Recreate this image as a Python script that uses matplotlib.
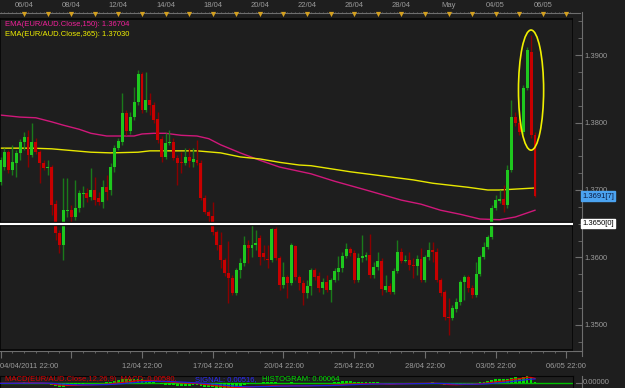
import numpy as np
import matplotlib
matplotlib.use("Agg")
import matplotlib.pyplot as plt
from matplotlib.patches import Ellipse

matplotlib.rcParams["font.family"] = ["Liberation Sans", "DejaVu Sans"]

W, H = 625, 388
BG = "#1e1e1e"
GRID_TXT = "#9a9a9a"
AXIS_LINE = "#6e6e6e"
UP_BODY = "#1ec81e"
UP_WICK = "#1a7a1a"
DN_BODY = "#c80000"
DN_WICK = "#8a0000"
EMA150_COLOR = "#d0187a"
EMA365_COLOR = "#e8e800"

# 4h candles, EUR/AUD
opens = [
    1.3712, 1.3734, 1.3756, 1.3730, 1.3740, 1.3755, 1.3771, 1.3779, 1.3752, 1.3771,
    1.3756, 1.3740, 1.3733, 1.3734, 1.3679, 1.3636, 1.3618, 1.3669, 1.3670, 1.3660,
    1.3673, 1.3694, 1.3696, 1.3690, 1.3700, 1.3688, 1.3682, 1.3704, 1.3700, 1.3734,
    1.3762, 1.3771, 1.3814, 1.3787, 1.3808, 1.3830, 1.3872, 1.3819, 1.3833, 1.3826,
    1.3805, 1.3776, 1.3749, 1.3770, 1.3771, 1.3747, 1.3741, 1.3740, 1.3749, 1.3741,
    1.3744, 1.3740, 1.3688, 1.3667, 1.3661, 1.3638, 1.3618, 1.3596, 1.3577, 1.3570,
    1.3547, 1.3581, 1.3592, 1.3618, 1.3614, 1.3618, 1.3629, 1.3607, 1.3598, 1.3596,
    1.3642, 1.3599, 1.3559, 1.3571, 1.3562, 1.3617, 1.3571, 1.3562, 1.3547, 1.3558,
    1.3581, 1.3573, 1.3555, 1.3564, 1.3552, 1.3567, 1.3579, 1.3584, 1.3602, 1.3613,
    1.3607, 1.3567, 1.3599, 1.3601, 1.3604, 1.3574, 1.3586, 1.3595, 1.3552, 1.3558,
    1.3549, 1.3580, 1.3608, 1.3595, 1.3596, 1.3589, 1.3587, 1.3598, 1.3567, 1.3601,
    1.3611, 1.3608, 1.3567, 1.3549, 1.3512, 1.3510, 1.3524, 1.3534, 1.3564, 1.3571,
    1.3555, 1.3544, 1.3576, 1.3601, 1.3616, 1.3630, 1.3673, 1.3684, 1.3687, 1.3678,
    1.3730, 1.3808, 1.3799, 1.3786, 1.3851, 1.3904, 1.3781,
]
closes = [
    1.3744, 1.3756, 1.3730, 1.3741, 1.3755, 1.3771, 1.3779, 1.3752, 1.3771, 1.3756,
    1.3740, 1.3733, 1.3734, 1.3678, 1.3636, 1.3618, 1.3670, 1.3670, 1.3660, 1.3673,
    1.3696, 1.3696, 1.3688, 1.3700, 1.3685, 1.3682, 1.3704, 1.3697, 1.3734, 1.3762,
    1.3773, 1.3814, 1.3787, 1.3808, 1.3830, 1.3872, 1.3819, 1.3833, 1.3826, 1.3804,
    1.3774, 1.3749, 1.3770, 1.3771, 1.3747, 1.3740, 1.3740, 1.3749, 1.3743, 1.3746,
    1.3740, 1.3688, 1.3667, 1.3661, 1.3638, 1.3618, 1.3596, 1.3577, 1.3570, 1.3547,
    1.3581, 1.3592, 1.3618, 1.3614, 1.3618, 1.3621, 1.3601, 1.3601, 1.3596, 1.3642,
    1.3599, 1.3559, 1.3571, 1.3562, 1.3618, 1.3571, 1.3562, 1.3547, 1.3558, 1.3581,
    1.3571, 1.3555, 1.3564, 1.3552, 1.3567, 1.3580, 1.3584, 1.3602, 1.3613, 1.3607,
    1.3567, 1.3599, 1.3602, 1.3604, 1.3574, 1.3586, 1.3595, 1.3553, 1.3558, 1.3549,
    1.3580, 1.3608, 1.3595, 1.3596, 1.3589, 1.3587, 1.3598, 1.3567, 1.3601, 1.3611,
    1.3608, 1.3567, 1.3547, 1.3512, 1.3510, 1.3525, 1.3534, 1.3564, 1.3571, 1.3555,
    1.3544, 1.3576, 1.3601, 1.3616, 1.3630, 1.3673, 1.3685, 1.3687, 1.3678, 1.3730,
    1.3808, 1.3799, 1.3786, 1.3851, 1.3907, 1.3781, 1.3691,
]
highs = [
    1.3749, 1.3762, 1.3759, 1.3767, 1.3759, 1.3776, 1.3786, 1.3789, 1.3799, 1.3777,
    1.3759, 1.3744, 1.3744, 1.3737, 1.3685, 1.3641, 1.3718, 1.3718, 1.3678, 1.3715,
    1.3700, 1.3706, 1.3703, 1.3733, 1.3719, 1.3697, 1.3715, 1.3722, 1.3740, 1.3767,
    1.3777, 1.3844, 1.3819, 1.3816, 1.3853, 1.3878, 1.3875, 1.3875, 1.3844, 1.3830,
    1.3816, 1.3780, 1.3784, 1.3789, 1.3777, 1.3752, 1.3756, 1.3762, 1.3762, 1.3762,
    1.3774, 1.3744, 1.3693, 1.3670, 1.3682, 1.3641, 1.3638, 1.3599, 1.3624, 1.3574,
    1.3584, 1.3599, 1.3632, 1.3626, 1.3648, 1.3641, 1.3633, 1.3618, 1.3618, 1.3644,
    1.3645, 1.3602, 1.3593, 1.3574, 1.3621, 1.3618, 1.3574, 1.3567, 1.3567, 1.3584,
    1.3584, 1.3579, 1.3570, 1.3574, 1.3570, 1.3584, 1.3602, 1.3608, 1.3621, 1.3616,
    1.3611, 1.3607, 1.3633, 1.3608, 1.3635, 1.3593, 1.3608, 1.3599, 1.3574, 1.3562,
    1.3584, 1.3626, 1.3614, 1.3604, 1.3608, 1.3599, 1.3604, 1.3614, 1.3604, 1.3623,
    1.3623, 1.3614, 1.3570, 1.3552, 1.3540, 1.3530, 1.3540, 1.3567, 1.3574, 1.3574,
    1.3559, 1.3593, 1.3604, 1.3623, 1.3633, 1.3678, 1.3693, 1.3700, 1.3707, 1.3737,
    1.3833, 1.3816, 1.3807, 1.3856, 1.3912, 1.3930, 1.3786,
]
lows = [
    1.3707, 1.3730, 1.3725, 1.3722, 1.3719, 1.3744, 1.3759, 1.3734, 1.3749, 1.3753,
    1.3710, 1.3730, 1.3722, 1.3663, 1.3626, 1.3607, 1.3596, 1.3660, 1.3653, 1.3656,
    1.3667, 1.3675, 1.3682, 1.3685, 1.3678, 1.3678, 1.3673, 1.3685, 1.3693, 1.3727,
    1.3759, 1.3767, 1.3781, 1.3783, 1.3804, 1.3826, 1.3814, 1.3816, 1.3811, 1.3799,
    1.3770, 1.3741, 1.3746, 1.3767, 1.3744, 1.3707, 1.3725, 1.3737, 1.3734, 1.3734,
    1.3737, 1.3685, 1.3664, 1.3651, 1.3633, 1.3611, 1.3584, 1.3573, 1.3533, 1.3544,
    1.3544, 1.3570, 1.3587, 1.3592, 1.3601, 1.3611, 1.3589, 1.3596, 1.3584, 1.3593,
    1.3596, 1.3552, 1.3555, 1.3540, 1.3559, 1.3567, 1.3552, 1.3530, 1.3540, 1.3544,
    1.3567, 1.3549, 1.3546, 1.3549, 1.3534, 1.3564, 1.3567, 1.3579, 1.3599, 1.3602,
    1.3562, 1.3564, 1.3593, 1.3596, 1.3570, 1.3570, 1.3581, 1.3544, 1.3549, 1.3546,
    1.3546, 1.3577, 1.3592, 1.3593, 1.3581, 1.3570, 1.3574, 1.3564, 1.3564, 1.3596,
    1.3593, 1.3564, 1.3543, 1.3507, 1.3485, 1.3507, 1.3519, 1.3530, 1.3537, 1.3549,
    1.3540, 1.3541, 1.3573, 1.3598, 1.3613, 1.3627, 1.3670, 1.3681, 1.3667, 1.3673,
    1.3727, 1.3795, 1.3781, 1.3783, 1.3848, 1.3777, 1.3690,
]

# EMA lines (read at a few candle positions)
ema150_idx = [0, 5, 9, 13, 16, 20, 23, 27, 34, 36, 39, 42, 46, 50, 53, 56, 61, 66,
              71, 79, 85, 93, 102, 107, 112, 117, 122, 127, 131, 136]
ema150_val = [1.3811, 1.3808, 1.3807, 1.3801, 1.3796, 1.3790, 1.3784, 1.3780, 1.3780,
              1.3783, 1.3784, 1.3784, 1.3781, 1.3780, 1.3776, 1.3767, 1.3755, 1.3744,
              1.3734, 1.3724, 1.3713, 1.3700, 1.3685, 1.3679, 1.3670, 1.3664, 1.3657,
              1.3656, 1.3660, 1.3670]
ema365_idx = [0, 8, 13, 19, 23, 28, 35, 38, 50, 56, 61, 66, 71, 76, 79, 89, 97, 105,
              110, 119, 124, 127, 136]
ema365_val = [1.3762, 1.3762, 1.3761, 1.3758, 1.3756, 1.3755, 1.3756, 1.3758, 1.3758,
              1.3755, 1.3749, 1.3746, 1.3741, 1.3737, 1.3736, 1.3727, 1.3721, 1.3715,
              1.3710, 1.3704, 1.3700, 1.3700, 1.3703]

price_ticks = [1.35, 1.36, 1.37, 1.38, 1.39]
level_line = 1.3650
last_price = 1.3691

top_label_idx = [6, 18, 30, 42, 54, 66, 78, 90, 102, 114, 126, 138]
top_labels = ["06/04", "08/04", "12/04", "14/04", "18/04", "20/04", "22/04",
              "26/04", "28/04", "May", "04/05", "06/05"]
bottom_label_idx = [0, 36, 54, 72, 90, 108, 126, 144]
bottom_labels = ["04/04/2011 22:00", "12/04 22:00", "17/04 22:00", "20/04 22:00",
                 "25/04 22:00", "28/04 22:00", "03/05 22:00", "06/05 22:00"]

PX_PER_BAR = 3.93
X0 = -0.5 / PX_PER_BAR
X1 = (573 - 0.5) / PX_PER_BAR
Y_TOP = 1.39 + 36 / 6750
Y_BOT = 1.39 - 295 / 6750


def fax(x0, y0, x1, y1):
    a = fig.add_axes([x0 / W, 1 - y1 / H, (x1 - x0) / W, (y1 - y0) / H])
    a.set_facecolor(BG)
    return a


def ema(vals, n):
    out = []
    k = 2.0 / (n + 1)
    prev = vals[0]
    for v in vals:
        prev = prev + k * (v - prev)
        out.append(prev)
    return np.array(out)


fig = plt.figure(figsize=(W / 100, H / 100), dpi=100)
fig.patch.set_facecolor(BG)

o = np.array(opens)
c = np.array(closes)
hi = np.array(highs)
lo = np.array(lows)
idx = np.arange(len(o))
up = c >= o

# --- main price pane
ax = fax(0, 19, 573, 350)
ax.set_xlim(X0, X1)
ax.set_ylim(Y_BOT, Y_TOP)
ax.set_xticks([])
ax.set_yticks([])
for s in ax.spines.values():
    s.set_color("#050505")
    s.set_linewidth(1.2)

ax.plot(ema150_idx, ema150_val, color=EMA150_COLOR, lw=1.0, zorder=2)
ax.plot(ema365_idx, ema365_val, color=EMA365_COLOR, lw=1.0, zorder=2)

ax.vlines(idx[up], lo[up], hi[up], color=UP_WICK, lw=1.0, zorder=3)
ax.vlines(idx[~up], lo[~up], hi[~up], color=DN_WICK, lw=1.0, zorder=3)
body_lo = np.minimum(o, c)
body_h = np.maximum(np.abs(c - o), 0.00012)
ax.bar(idx[up], body_h[up], bottom=body_lo[up], width=0.75, color=UP_BODY, lw=0, zorder=4)
ax.bar(idx[~up], body_h[~up], bottom=body_lo[~up], width=0.75, color=DN_BODY, lw=0, zorder=4)

ax.axhline(level_line, color="#000000", lw=3.2, zorder=5)
ax.axhline(level_line, color="#ffffff", lw=1.6, zorder=6)

ax.add_patch(Ellipse((135.0, 1.3848), width=6.4, height=0.0178, fill=False,
                     edgecolor="#f0f000", lw=1.2, zorder=7))

ax.text(1.2, 1.3951, "EMA(EUR/AUD.Close,150): 1.36704", color="#f0209a",
        fontsize=5.5, va="top", ha="left", zorder=8)
ax.text(1.2, 1.3936, "EMA(EUR/AUD.Close,365): 1.37030", color="#f0f000",
        fontsize=5.5, va="top", ha="left", zorder=8)

# --- price scale on the right
axr = fax(573, 12, 582, 356)
axr.set_ylim(Y_BOT - 6 / 6750, Y_TOP + 7 / 6750)
axr.set_xlim(0, 1)
axr.set_xticks([])
for k, s in axr.spines.items():
    s.set_visible(k == "right")
axr.spines["right"].set_color(AXIS_LINE)
axr.yaxis.tick_right()
axr.set_yticks(price_ticks)
axr.set_yticklabels([f"{p:.4f}" for p in price_ticks])
axr.set_yticks(np.arange(1.3475, 1.3951, 0.0025), minor=True)
axr.tick_params(axis="y", which="major", direction="in", length=5, color=AXIS_LINE,
                labelcolor=GRID_TXT, labelsize=5.5, pad=2)
axr.tick_params(axis="y", which="minor", direction="in", length=3, color=AXIS_LINE)

axr.text(1.05, last_price, f"{last_price:.4f}[7]", transform=axr.get_yaxis_transform(),
         fontsize=5.5, color="#0a1a40", va="center", ha="left", clip_on=False,
         bbox=dict(boxstyle="square,pad=0.15", fc="#4ba3f0", ec="#4ba3f0"), zorder=9)
axr.text(1.05, level_line, f"{level_line:.4f}[0]", transform=axr.get_yaxis_transform(),
         fontsize=5.5, color="#000000", va="center", ha="left", clip_on=False,
         bbox=dict(boxstyle="square,pad=0.15", fc="#ffffff", ec="#ffffff"), zorder=9)

# --- time strip on top
axt = fax(0, 0, 573, 19)
axt.set_xlim(X0, X1)
axt.set_ylim(19, 0)
axt.axis("off")
axt.plot([X0, X1 + 7 / PX_PER_BAR], [13, 13], color=AXIS_LINE, lw=0.8, clip_on=False)
axt.vlines(np.arange(0, 147), 11.5, 13, color=AXIS_LINE, lw=0.6)
day_idx = np.arange(6, 147, 6)
axt.scatter(day_idx, np.full(len(day_idx), 14.3), marker="v", s=14, color="#d4a020",
            lw=0, zorder=3, clip_on=False)
for i, lab in zip(top_label_idx, top_labels):
    axt.text(i, 5.5, lab, color=GRID_TXT, fontsize=5.5, ha="center", va="center")

# --- time strip at the bottom
axb = fax(0, 350, 573, 376)
axb.set_xlim(X0, X1)
axb.set_ylim(26, 0)
axb.axis("off")
axb.plot([X0, X1 + 9 / PX_PER_BAR], [0.6, 0.6], color=AXIS_LINE, lw=0.8, clip_on=False)
axb.vlines(np.arange(0, 147, 3), 0.6, 3.0, color=AXIS_LINE, lw=0.6)
axb.vlines(np.arange(0, 147, 18), 0.6, 7.5, color=AXIS_LINE, lw=0.8)
for i, lab in zip(bottom_label_idx, bottom_labels):
    axb.text(i, 16, lab, color=GRID_TXT, fontsize=5.5, va="center",
             ha="left" if i == 0 else "center", clip_on=False)

# --- MACD pane (mostly cut off)
macd = ema(closes, 12) - ema(closes, 26)
signal = ema(list(macd), 9)
hist = macd - signal
axm = fax(0, 376, 573, 392)
axm.set_xlim(X0, X1)
axm.set_ylim(-0.010, 0.0085)
axm.set_xticks([])
axm.set_yticks([])
for s in axm.spines.values():
    s.set_color("#050505")
axm.axhline(0, color="#00c000", lw=1.0, zorder=2)
axm.bar(idx, hist * 3, width=0.7, color="#00e000", lw=0, zorder=3)
axm.plot(idx, macd, color="#e00000", lw=0.9, zorder=4)
axm.plot(idx, signal, color="#2020e0", lw=0.9, zorder=4)
axm.text(1.2, 0.0040, "MACD(EUR/AUD.Close,12,26,9), MACD: 0.00580,", color="#e00000",
         fontsize=5.5, va="center", ha="left", zorder=6)
axm.text(49.5, 0.0040, "SIGNAL: 0.00516,", color="#2a2aff", fontsize=5.5,
         va="center", ha="left", zorder=6)
axm.text(66.5, 0.0040, "HISTOGRAM: 0.00064", color="#00e000", fontsize=5.5,
         va="center", ha="left", zorder=6)
fig.text(583 / W, 1 - 383 / H, "0.00000", color=GRID_TXT, fontsize=5.5, va="center")
fig.add_artist(plt.Line2D([576 / W, 581 / W], [1 - 383 / H] * 2, color=AXIS_LINE, lw=0.8))
fig.add_artist(plt.Line2D([582 / W] * 2, [0, 1 - 376 / H], color=AXIS_LINE, lw=0.8))

fig.savefig("out.png", dpi=100, facecolor=BG)
